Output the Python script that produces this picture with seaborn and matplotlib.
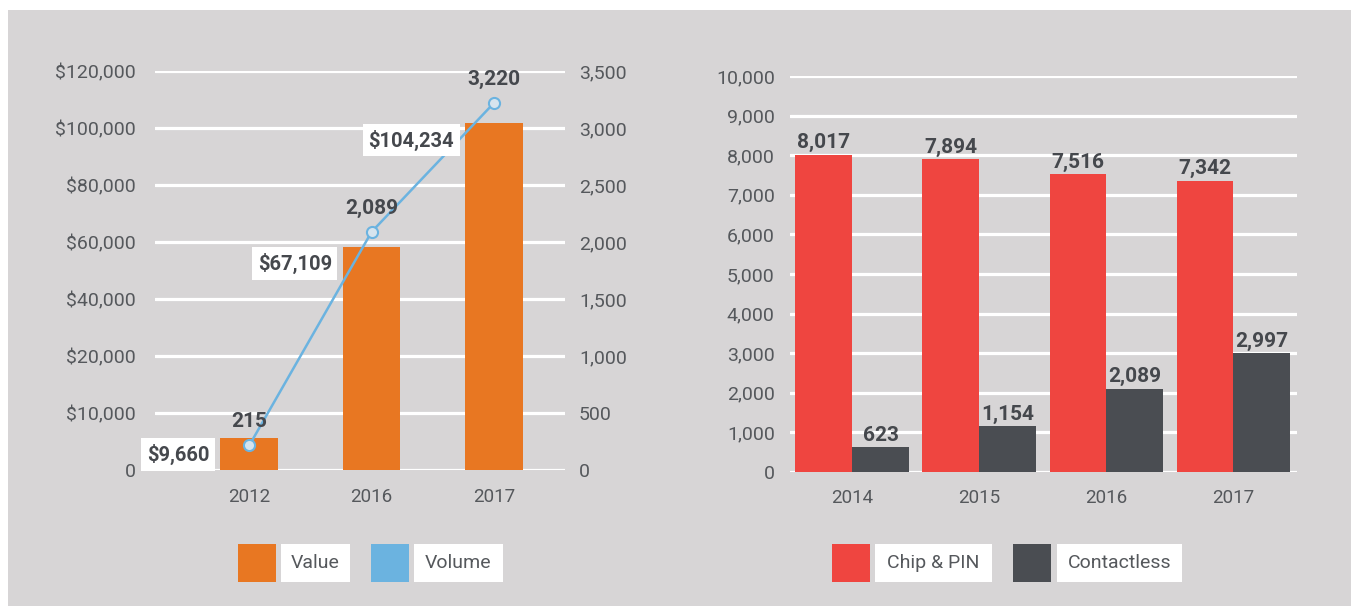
import numpy as np
import pandas as pd
import matplotlib.pyplot as plt
import matplotlib.patches as mpatches
import seaborn as sns

# data
value_years = ['2012', '2016', '2017']
value_amounts = [9660, 67109, 104234]
volume_counts = [215, 2089, 3220]
value_ticks = ['0', '$10,000', '$20,000', '$40,000', '$60,000', '$80,000', '$100,000', '$120,000']

card_years = ['2014', '2015', '2016', '2017']
chip_pin = [8017, 7894, 7516, 7342]
contactless = [623, 1154, 2089, 2997]

BG = '#d7d5d6'
ORANGE = '#e87722'
BLUE = '#6bb3e0'
RED = '#ef4540'
DARK = '#4a4d52'
TICK = '#55585c'
LABEL = '#45484d'

sns.set_theme(style='white')
plt.rcParams['font.family'] = ['Roboto', 'DejaVu Sans']

W, H = 1351, 606
fig = plt.figure(figsize=(W / 100, H / 100), dpi=100, facecolor='white')
fig.add_artist(mpatches.Rectangle((8 / W, 0), 1, 1 - 10 / H, transform=fig.transFigure,
                                  facecolor=BG, edgecolor='none', zorder=-10))


def px_axes(x0, y0, x1, y1):
    return fig.add_axes([x0 / W, 1 - y1 / H, (x1 - x0) / W, (y1 - y0) / H])


def style_axis(a):
    a.set_facecolor('none')
    for s in a.spines.values():
        s.set_visible(False)
    a.tick_params(length=0, labelcolor=TICK)
    a.tick_params(axis='y', labelsize=14)
    a.tick_params(axis='x', labelsize=13.5)
    a.set_xlabel('')
    a.set_ylabel('')


# ---- left chart: value bars + volume line ----
ax = px_axes(155, 71, 565, 470)
ax2 = ax.twinx()

df_val = pd.DataFrame({'year': value_years, 'value': value_amounts})
sns.barplot(data=df_val, x='year', y='value', color=ORANGE, width=0.47,
            saturation=1, linewidth=0, ax=ax, zorder=3)
ax.set_ylim(0, 120000)
ax.set_yticks(np.linspace(0, 120000, 8))
ax.set_yticklabels(value_ticks)
ax.set_xlim(-0.77, 2.58)
for y in np.linspace(0, 120000, 8):
    ax.axhline(y, color='white', lw=2.3, zorder=1)
style_axis(ax)
ax.tick_params(axis='y', pad=14)
ax.tick_params(axis='x', pad=13)

df_vol = pd.DataFrame({'x': np.arange(len(volume_counts)), 'volume': volume_counts})
sns.lineplot(data=df_vol, x='x', y='volume', color=BLUE, lw=1.8, marker='o',
             markersize=8, markerfacecolor='#d6e4ee', markeredgecolor=BLUE,
             markeredgewidth=1.5, ax=ax2, zorder=4)
ax2.set_ylim(0, 3500)
ax2.set_yticks(np.arange(0, 3501, 500))
ax2.set_yticklabels([f'{v:,}' for v in range(0, 3501, 500)])
ax2.set_xlim(-0.77, 2.58)
style_axis(ax2)
ax2.tick_params(axis='y', pad=10)

for i, (v, n) in enumerate(zip(value_amounts, volume_counts)):
    ax2.annotate(f'${v:,}', xy=(i - 0.235, v * 3500 / 120000), xytext=(-8, -12),
                 textcoords='offset points', ha='right', va='center',
                 fontsize=14.5, fontweight='bold', color=LABEL, zorder=6,
                 bbox=dict(boxstyle='square,pad=0.28', fc='white', ec='none'))
    ax2.annotate(f'{n:,}', xy=(i, n), xytext=(0, 17), textcoords='offset points',
                 ha='center', va='center', fontsize=15, fontweight='bold',
                 color=LABEL, zorder=6)

# ---- right chart: chip & pin vs contactless ----
bx = px_axes(790, 76, 1297, 472)
df_card = pd.DataFrame({
    'year': card_years * 2,
    'count': chip_pin + contactless,
    'type': ['Chip & PIN'] * 4 + ['Contactless'] * 4,
})
sns.barplot(data=df_card, x='year', y='count', hue='type', palette=[RED, DARK],
            width=0.895, gap=0, saturation=1, linewidth=0, ax=bx, legend=False, zorder=3)
bx.set_ylim(0, 10000)
bx.set_yticks(np.arange(0, 10001, 1000))
bx.set_yticklabels([f'{v:,}' for v in range(0, 10001, 1000)])
bx.set_xlim(-0.49, 3.5)
for y in range(0, 10001, 1000):
    bx.axhline(y, color='white', lw=2.3, zorder=1)
style_axis(bx)
bx.tick_params(axis='y', pad=11)
bx.tick_params(axis='x', pad=12)

for i, (c, k) in enumerate(zip(chip_pin, contactless)):
    bx.annotate(f'{c:,}', xy=(i - 0.224, c), xytext=(0, 2), textcoords='offset points',
                ha='center', va='bottom', fontsize=15, fontweight='bold', color=LABEL, zorder=6)
    bx.annotate(f'{k:,}', xy=(i + 0.224, k), xytext=(0, 2), textcoords='offset points',
                ha='center', va='bottom', fontsize=15, fontweight='bold', color=LABEL, zorder=6)


# ---- legends (square swatch + white label box) ----
def legend_item(x_sq, x_box0, x_box1, color, text):
    y0, y1 = 544, 582
    fig.add_artist(mpatches.Rectangle((x_sq / W, 1 - y1 / H), 38 / W, (y1 - y0) / H,
                                      transform=fig.transFigure, fc=color, ec='none'))
    fig.add_artist(mpatches.Rectangle((x_box0 / W, 1 - y1 / H), (x_box1 - x_box0) / W,
                                      (y1 - y0) / H, transform=fig.transFigure,
                                      fc='white', ec='none'))
    fig.text((x_box0 + x_box1) / 2 / W, 1 - (y0 + y1) / 2 / H, text, ha='center',
             va='center', fontsize=14, color=TICK)


legend_item(238, 281, 350, ORANGE, 'Value')
legend_item(371, 414, 503, BLUE, 'Volume')
legend_item(832, 875, 992, RED, 'Chip & PIN')
legend_item(1013, 1057, 1182, DARK, 'Contactless')

fig.savefig('out.png', dpi=100, facecolor=fig.get_facecolor())
